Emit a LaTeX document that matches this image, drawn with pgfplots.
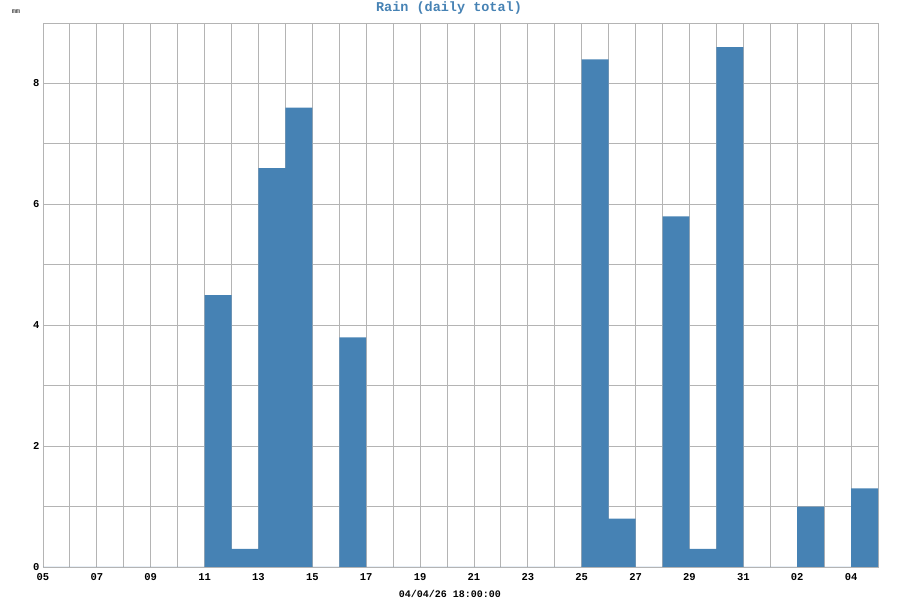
\documentclass[border=0pt]{standalone}
\usepackage{pgfplots}
\pgfplotsset{compat=1.18}
\usepackage{fontspec}
\setmainfont{Liberation Mono}
\definecolor{steel}{RGB}{70,130,180}
\definecolor{gridc}{RGB}{180,180,180}
\definecolor{basec}{RGB}{150,170,195}
\begin{document}
\begin{tikzpicture}[x=1pt,y=1pt]
\path[use as bounding box] (0,0) rectangle (900,600);
\begin{axis}[at={(43pt,33pt)}, anchor=south west, scale only axis,
  width=835pt, height=544pt,
  xmin=0, xmax=31, ymin=0, ymax=9,
  xtick={0,2,...,30},
  xticklabels={05,07,09,11,13,15,17,19,21,23,25,27,29,31,02,04},
  minor xtick={1,3,...,29},
  ytick={0,2,4,6,8}, yticklabels={0,2,4,6,8},
  minor ytick={1,3,5,7},
  grid=both,
  major grid style={draw=gridc, line width=0.9pt},
  minor grid style={draw=gridc, line width=0.9pt},
  axis line style={draw=gridc, line width=0.9pt},
  x axis line style={draw=basec},
  major tick length=0pt, minor tick length=0pt,
  tick label style={font=\bfseries\fontsize{10.5}{12}\selectfont, text=black},
  xticklabel style={yshift=-3pt},
  yticklabel style={xshift=0pt},
]
\addplot[ybar interval, fill=steel, draw=none] coordinates {
(0,0) (1,0) (2,0) (3,0) (4,0) (5,0) (6,4.5) (7,0.3) (8,6.6) (9,7.6)
(10,0) (11,3.8) (12,0) (13,0) (14,0) (15,0) (16,0) (17,0) (18,0) (19,0)
(20,8.4) (21,0.8) (22,0) (23,5.8) (24,0.3) (25,8.6) (26,0) (27,0) (28,1.0)
(29,0) (30,1.3) (31,0)
};
\end{axis}
\node[font=\bfseries\fontsize{13.5}{15}\selectfont, text=steel] at (449,592) {Rain (daily total)};
\node[font=\bfseries\fontsize{10}{11}\selectfont] at (450,6) {04/04/26 18:00:00};
\node[font=\bfseries\fontsize{7}{8}\selectfont, text=black!70] at (16,588) {mm};
\end{tikzpicture}
\end{document}
